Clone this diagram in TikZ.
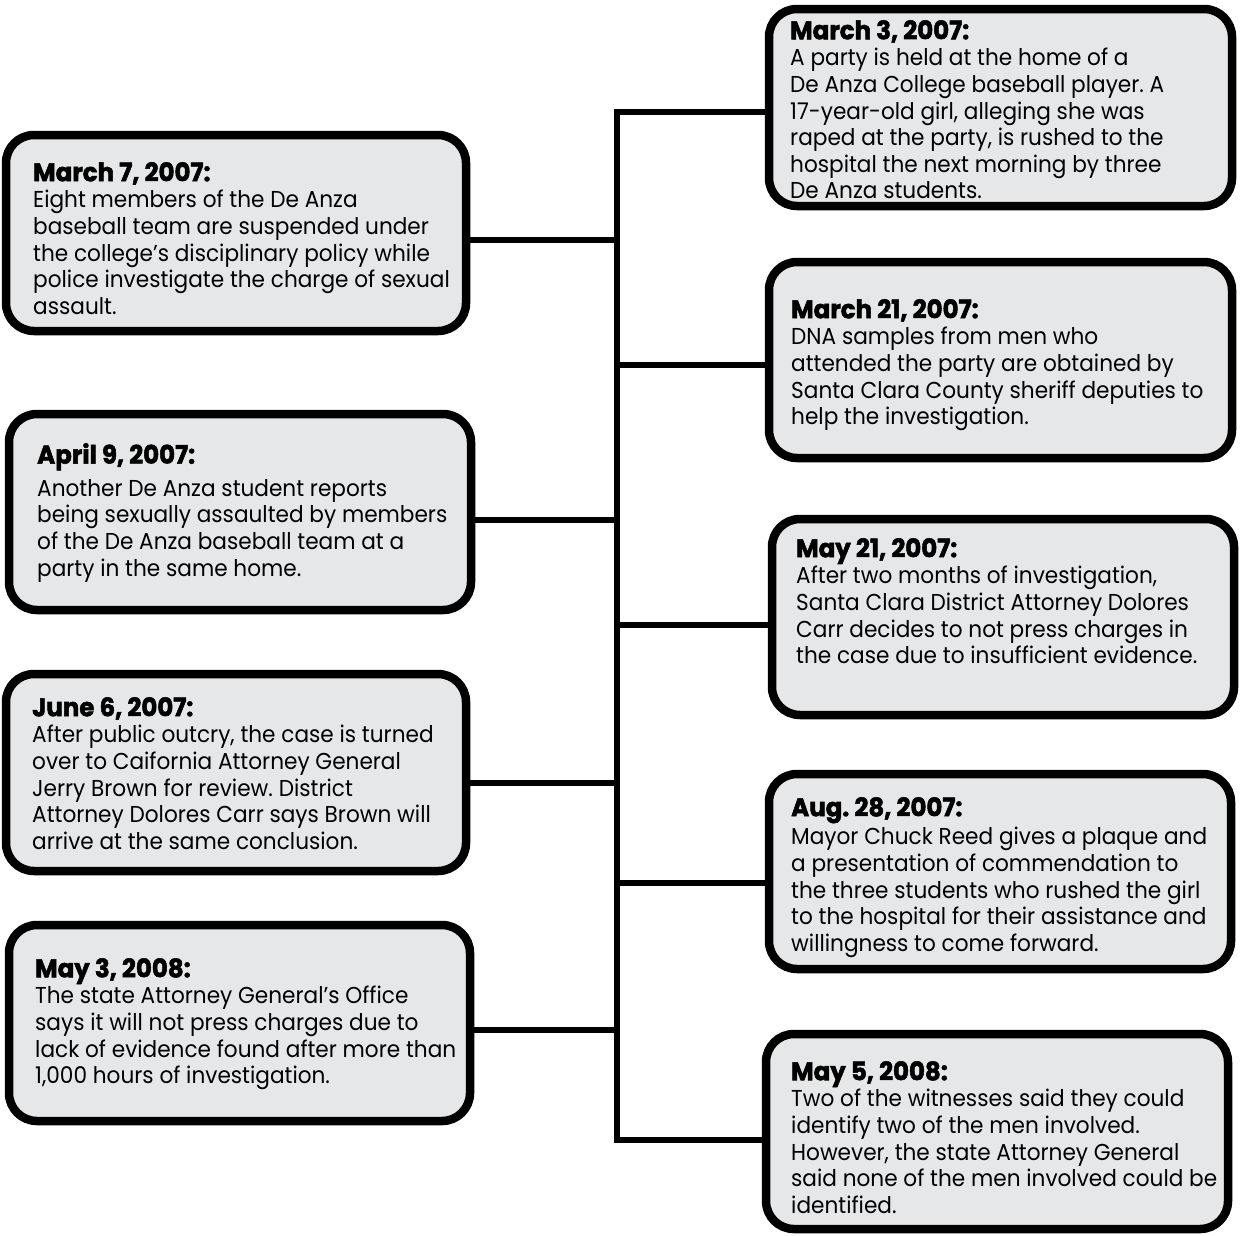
\documentclass[tikz,border=0pt]{standalone}
\usepackage{fontspec}
\setmainfont{Poppins}[FakeStretch=0.94]
\newfontfamily\titlefont{Poppins}[FakeStretch=0.96,FakeBold=2,UprightFont=* Bold]
\usetikzlibrary{fit}
\definecolor{boxfill}{HTML}{E6E7E8}
\frenchspacing
\tikzset{
  evbox/.style={draw=black, fill=boxfill, line width=8.5pt, rounded corners=28pt, inner sep=0pt},
  evtext/.style={anchor=north west, inner sep=0pt, align=left, font=\fontsize{23}{26.6}\selectfont\frenchspacing},
  link/.style={draw=black, line width=6pt, line join=miter}
}
\newcommand\ttl[1]{{\titlefont\fontsize{25.5}{26.6}\selectfont #1}}
\begin{document}
\begin{tikzpicture}[x=1pt,y=-1pt]
\useasboundingbox (0,0) rectangle (1241,1235);
% boxes
\node[evbox, fit={(6,135) (466,331)}] (L1) {};
\node[evbox, fit={(9,414) (471,610)}] (L2) {};
\node[evbox, fit={(6,674) (466,871)}] (L3) {};
\node[evbox, fit={(9,925) (470,1121)}] (L4) {};
\node[evbox, fit={(769,9) (1232,206)}] (R1) {};
\node[evbox, fit={(769,262) (1232,458)}] (R2) {};
\node[evbox, fit={(772,519) (1234,715)}] (R3) {};
\node[evbox, fit={(769,774) (1231,969)}] (R4) {};
\node[evbox, fit={(766,1034) (1228,1229)}] (R5) {};
% spine junctions
\coordinate (jR1) at (617,112);
\coordinate (jL1) at (617,240);
\coordinate (jR2) at (617,365);
\coordinate (jL2) at (617,520);
\coordinate (jR3) at (617,625);
\coordinate (jL3) at (617,783);
\coordinate (jR4) at (617,883);
\coordinate (jL4) at (617,1030);
\coordinate (jR5) at (617,1140);
\draw[link] (R1.west |- jR1) -- (jR1) -- (jR5) -- (R5.west |- jR5);
\draw[link] (L1.east |- jL1) -- (jL1);
\draw[link] (L2.east |- jL2) -- (jL2);
\draw[link] (L3.east |- jL3) -- (jL3);
\draw[link] (L4.east |- jL4) -- (jL4);
\draw[link] (R2.west |- jR2) -- (jR2);
\draw[link] (R3.west |- jR3) -- (jR3);
\draw[link] (R4.west |- jR4) -- (jR4);
% texts
\node[evtext] (tR1) at (790,20) {\ttl{March 3, 2007:}\\A party is held at the home of a\\De Anza College baseball player. A\\17-year-old girl, alleging she was\\raped at the party, is rushed to the\\hospital the next morning by three\\De Anza students.};
\node[evtext] (tL1) at (33,162) {\ttl{March 7, 2007:}\\Eight members of the De Anza\\baseball team are suspended under\\the college’s disciplinary policy while\\police investigate the charge of sexual\\assault.};
\node[evtext] (tR2) at (791,299) {\ttl{March 21, 2007:}\\DNA samples from men who\\attended the party are obtained by\\Santa Clara County sheriff deputies to\\help the investigation.};
\node[evtext] (tL2) at (37,443) {\ttl{April 9, 2007:}\\[6pt]Another De Anza student reports\\being sexually assaulted by members\\of the De Anza baseball team at a\\party in the same home.};
\node[evtext] (tR3) at (796,538) {\ttl{May 21, 2007:}\\After two months of investigation,\\Santa Clara District Attorney Dolores\\Carr decides to not press charges in\\the case due to insufficient evidence.};
\node[evtext] (tL3) at (32,697) {\ttl{June 6, 2007:}\\After public outcry, the case is turned\\over to Caifornia Attorney General\\Jerry Brown for review. District\\Attorney Dolores Carr says Brown will\\arrive at the same conclusion.};
\node[evtext] (tR4) at (791,797) {\ttl{Aug. 28, 2007:}\\[2pt]Mayor Chuck Reed gives a plaque and\\a presentation of commendation to\\the three students who rushed the girl\\to the hospital for their assistance and\\willingness to come forward.};
\node[evtext] (tL4) at (35,958) {\ttl{May 3, 2008:}\\The state Attorney General’s Office\\says it will not press charges due to\\lack of evidence found after more than\\1,000 hours of investigation.};
\node[evtext] (tR5) at (791,1061) {\ttl{May 5, 2008:}\\Two of the witnesses said they could\\identify two of the men involved.\\However, the state Attorney General\\said none of the men involved could be\\identified.};
\end{tikzpicture}
\end{document}
